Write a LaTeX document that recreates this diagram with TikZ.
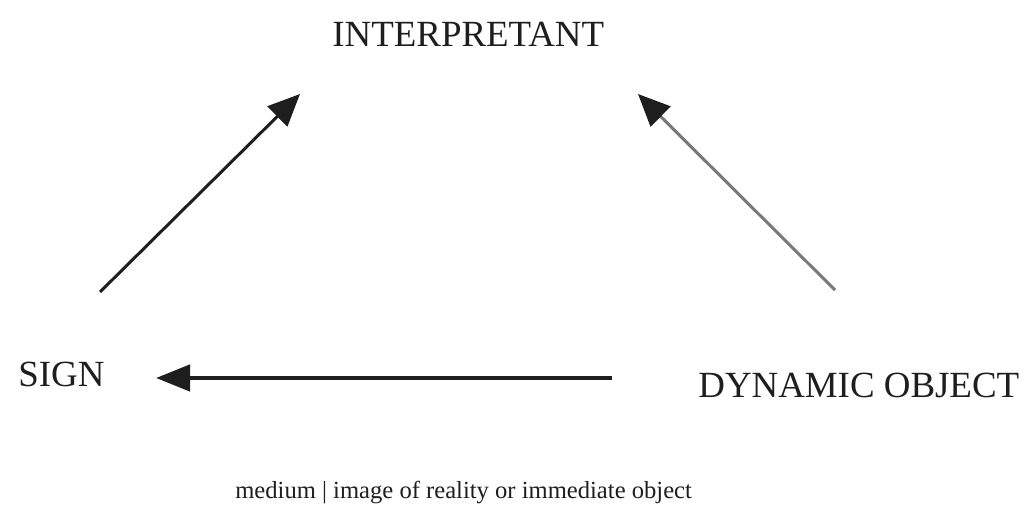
\documentclass[tikz,border=0pt]{standalone}
\usepackage{fontspec}
\setmainfont{Liberation Serif}
\usetikzlibrary{arrows.meta,positioning}
\definecolor{ink}{RGB}{30,30,30}
\definecolor{faintink}{RGB}{120,120,120}
\tikzset{
  term/.style={inner sep=0pt,text=ink,font=\fontsize{21}{25}\selectfont},
  gloss/.style={inner sep=0pt,text=ink,font=\fontsize{14}{17}\selectfont},
  rel/.style={-{Triangle[length=6.4mm,width=5.6mm]},draw=ink,line width=1.7pt},
  relgrey/.style={rel,draw=faintink,-{Triangle[length=6.4mm,width=5.6mm,color=ink]}},
  relmain/.style={-{Triangle[length=6.8mm,width=5.2mm]},draw=ink,line width=2.6pt}
}
\begin{document}
\begin{tikzpicture}[x=0.2mm,y=-0.2mm]
  \useasboundingbox[fill=white] (0,0) rectangle (1026,505);
  \node[term,anchor=base west] (interp) at (332,47) {INTERPRETANT};
  \node[term,anchor=base west] (sign) at (18,387) {SIGN};
  \node[term,anchor=base west] (dynobj) at (698,398) {DYNAMIC OBJECT};
  \node[gloss,anchor=base west] (medium) at (235,499) {medium | image of reality or immediate object};
  % arrow ends
  \coordinate (sign-up) at (100,292);
  \coordinate (interp-l) at (300,94);
  \coordinate (obj-up) at (835,290);
  \coordinate (interp-r) at (638,94);
  \coordinate (obj-out) at (612,378);
  \coordinate (sign-in) at (156,378);
  \draw[rel] (sign-up) -- (interp-l);
  \draw[relgrey] (obj-up) -- (interp-r);
  \draw[relmain] (obj-out) -- (sign-in);
\end{tikzpicture}
\end{document}
